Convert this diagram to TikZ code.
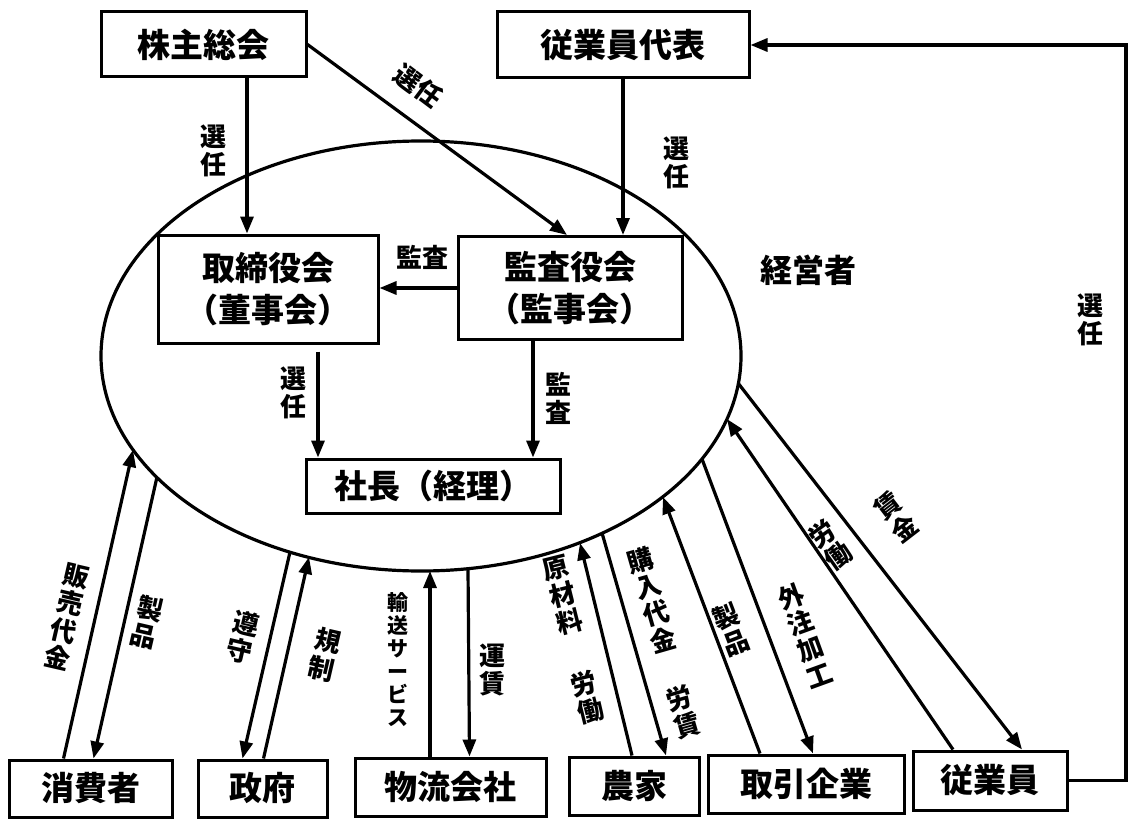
\documentclass[tikz,border=0pt]{standalone}
\usepackage{fontspec}
\setmainfont{Noto Sans CJK JP}
\usetikzlibrary{arrows.meta,shapes.geometric,calc}
\begin{document}
\begin{tikzpicture}[x=1pt,y=-1pt,
  box/.style={draw, line width=3pt, inner sep=0pt, align=center, font=\bfseries\fontsize{33}{42}\selectfont},
  lab/.style={inner sep=0pt, align=center, font=\bfseries\fontsize{26}{28}\selectfont},
  slab/.style={inner sep=0pt, align=center, font=\bfseries\fontsize{21}{23}\selectfont},
  arr/.style={line width=3.2pt, -{Triangle[length=17pt,width=13pt]}},
  ln/.style={line width=3.2pt}]
\useasboundingbox (0,0) rectangle (1134,821);
\fill[white] (0,0) rectangle (1134,821);
% ellipse
\node[draw, ellipse, line width=3.2pt, minimum width=640pt, minimum height=430pt, inner sep=0pt] (el) at (421,356) {};
% top boxes
\node[box, minimum width=205pt, minimum height=65pt] (sh) at (203.5,44.5) {株主総会};
\node[box, minimum width=252pt, minimum height=66pt] (jr) at (623,45) {従業員代表};
% inner boxes
\node[box, minimum width=220pt, minimum height=108pt] (tb) at (268,289) {取締役会\\（董事会）};
\node[box, minimum width=224pt, minimum height=103pt] (kb) at (570,288) {監査役会\\（監事会）};
\node[box, minimum width=254pt, minimum height=54pt] (ps) at (433,486) {社長（経理）};
% bottom boxes
\node[box, minimum width=163pt, minimum height=57pt] (c1) at (90.5,788.5) {消費者};
\node[box, minimum width=129pt, minimum height=57pt] (c2) at (262.5,788.5) {政府};
\node[box, minimum width=191pt, minimum height=58pt] (c3) at (450.5,787) {物流会社};
\node[box, minimum width=130pt, minimum height=58pt] (c4) at (634,786) {農家};
\node[box, minimum width=196pt, minimum height=58pt] (c5) at (806,784) {取引企業};
\node[box, minimum width=154pt, minimum height=59pt] (c6) at (990,780.5) {従業員};
% ellipse contact points
\coordinate (e1) at (133,450);
\coordinate (e2) at (157,477);
\coordinate (e3) at (290,552);
\coordinate (e4) at (309,557);
\coordinate (e5) at (430,571);
\coordinate (e6) at (468,569);
\coordinate (e7) at (580,543);
\coordinate (e8) at (602,533);
\coordinate (e9) at (663,497);
\coordinate (e10) at (702,459);
\coordinate (e11) at (727,419);
\coordinate (e12) at (738,383);
\coordinate (lp) at (1126,0);
% governance arrows
\draw[arr] ([xshift=43.5pt]sh.south) -- ([xshift=43.5pt]sh.south |- tb.north);
\draw[arr] (sh.east) -- ([xshift=-3pt]kb.north);
\draw[arr] (jr.south) -- (jr.south |- kb.north);
\draw[arr] (kb.west) -- (kb.west -| tb.east);
\draw[arr] ([xshift=50pt,yshift=-7pt]tb.south) -- ([xshift=50pt]tb.south |- ps.north);
\draw[arr] ([xshift=-37pt]kb.south) -- ([xshift=-37pt]kb.south |- ps.north);
\draw[arr] (c6.east) -| (jr.east -| lp) -- (jr.east);
% bottom arrows
\draw[arr] ([xshift=-27pt]c1.north) -- (e1);
\draw[arr] (e2) -- ([xshift=3pt]c1.north);
\draw[arr] (e3) -- ([xshift=-20pt]c2.north);
\draw[arr] ([xshift=1pt]c2.north) -- (e4);
\draw[arr] (c3.north -| e5) -- (e5);
\draw[arr] (e6) -- ([xshift=19pt]c3.north);
\draw[arr] ([xshift=-2pt]c4.north) -- (e7);
\draw[arr] (e8) -- ([xshift=32pt]c4.north);
\draw[arr] ([xshift=-46pt]c5.north) -- (e9);
\draw[arr] (e10) -- ([xshift=7pt]c5.north);
\draw[arr] ([xshift=-37pt]c6.north) -- (e11);
\draw[arr] (e12) -- ([xshift=32pt]c6.north);
% labels
\node[lab] (l1) at (213,151) {選\\任};
\node[lab, rotate=-36.9] (l2) at (418,86) {選任};
\node[lab] (l3) at (676,163) {選\\任};
\node[lab] (l4) at (422,257) {監査};
\node[lab] (l5) at (293,393) {選\\任};
\node[lab] (l6) at (558,398) {監\\査};
\node[inner sep=0pt, font=\bfseries\fontsize{32}{34}\selectfont] (l7) at (808,270) {経営者};
\node[lab] (l8) at (1090,320) {選\\任};
\node[lab, rotate=-13] (b1) at (67,617) {販\\売\\代\\金};
\node[lab, rotate=-13] (b2) at (147,622) {製\\品};
\node[lab, rotate=-13] (b3) at (243,637) {遵\\守};
\node[lab, rotate=-13] (b4) at (325,655) {規\\制};
\node[slab] (b5) at (398,660) {輸\\送\\サ\\ー\\ビ\\ス};
\node[lab] (b6) at (492,670) {運\\賃};
\node[lab, rotate=14] (b7) at (563,595) {原\\材\\料};
\node[lab, rotate=14] (b8) at (587,697) {労\\働};
\node[lab, rotate=16] (b9) at (652,600) {購\\入\\代\\金};
\node[lab, rotate=16] (b10) at (683,712) {労\\賃};
\node[lab, rotate=21] (b11) at (731,630) {製\\品};
\node[lab, rotate=20] (b12) at (805,635) {外\\注\\加\\工};
\node[lab, rotate=35.5] (b13) at (830,545) {労\\働};
\node[lab, rotate=37.6] (b14) at (896,517) {賃\\金};
\end{tikzpicture}
\end{document}
